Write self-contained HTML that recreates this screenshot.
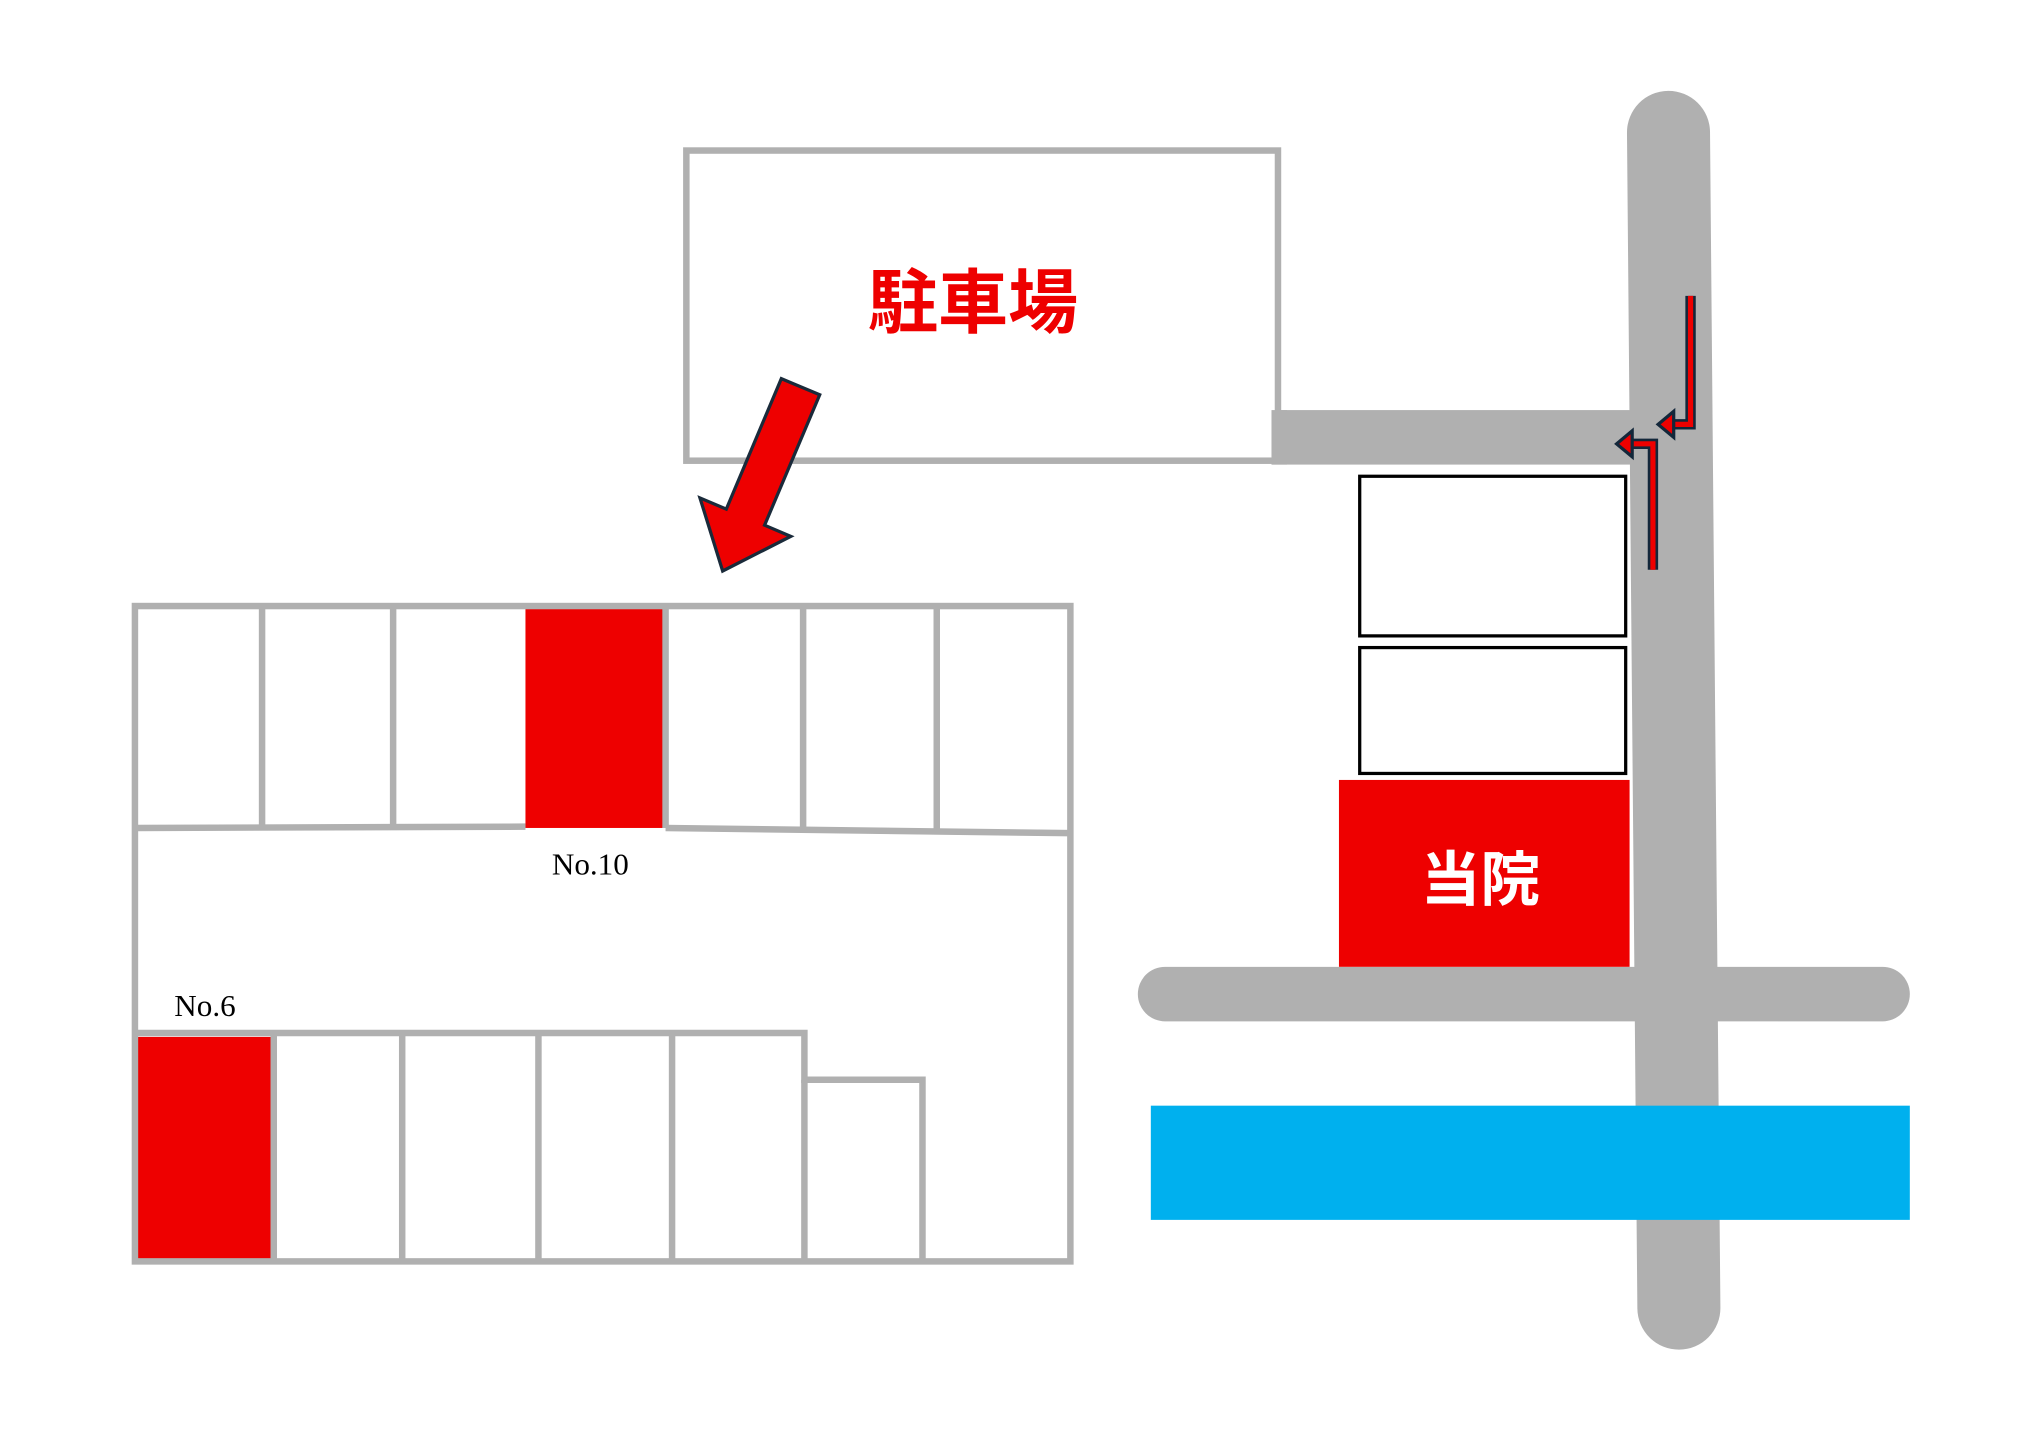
<!DOCTYPE html>
<html><head><meta charset="utf-8"><style>html,body{margin:0;padding:0;background:#fff}svg{display:block}</style></head>
<body>
<svg width="2024" height="1434" viewBox="0 0 1560 1105" preserveAspectRatio="none" xmlns="http://www.w3.org/2000/svg">
<rect width="1560" height="1105" fill="#fff"/>
<path d="M1286 102 L1294 1008" stroke="#b0b0b0" stroke-width="64" stroke-linecap="round" fill="none"/>
<line x1="898" y1="766" x2="1451" y2="766" stroke="#b0b0b0" stroke-width="42" stroke-linecap="round"/>
<rect x="980" y="316" width="285" height="42" fill="#b0b0b0"/>
<rect x="887" y="852" width="585" height="88" fill="#00b0ee"/>
<rect x="529" y="116" width="456" height="239" fill="#fff" stroke="#b0b0b0" stroke-width="5"/>
<rect x="980" y="316" width="12" height="42" fill="#b0b0b0"/>
<text x="750" y="252" font-family="'Liberation Sans','Noto Sans CJK JP',sans-serif" font-size="54" font-weight="bold" fill="#ee0000" text-anchor="middle">駐車場</text>
<rect x="1048" y="367" width="205" height="123" fill="#fff" stroke="#000" stroke-width="2.5"/>
<rect x="1048" y="499" width="205" height="97" fill="#fff" stroke="#000" stroke-width="2.5"/>
<rect x="1032" y="601" width="224" height="144" fill="#ee0000"/>
<text x="1141" y="694" font-family="'Liberation Sans','Noto Sans CJK JP',sans-serif" font-size="46" font-weight="bold" fill="#fff" text-anchor="middle">当院</text>
<polygon points="631.8,304.2 602.2,291.8 559.8,392.3 539.5,383.7 557,440 609.5,413.3 589.3,404.7" fill="#ee0000" stroke="#1a2a3a" stroke-width="2.5"/>
<g fill="none" stroke-linejoin="miter">
<path d="M1303 228 L1303 327 L1284 327" stroke="#13273a" stroke-width="8"/>
<path d="M1303 228 L1303 327 L1284 327" stroke="#ee0000" stroke-width="4"/>
<path d="M1274 439 L1274 342 L1256 342" stroke="#13273a" stroke-width="8"/>
<path d="M1274 439 L1274 342 L1256 342" stroke="#ee0000" stroke-width="4"/>
</g>
<polygon points="1278,327 1290,317 1290,337" fill="#ee0000" stroke="#13273a" stroke-width="2.5"/>
<polygon points="1246,342 1258,332 1258,352" fill="#ee0000" stroke="#13273a" stroke-width="2.5"/>
<rect x="405" y="466" width="108" height="172" fill="#ee0000"/>
<rect x="104" y="799" width="107" height="171" fill="#ee0000"/>
<g stroke="#b0b0b0" stroke-width="5" fill="none">
<rect x="104" y="467" width="721" height="505"/>
<path d="M104 638 L405 637 M513 638 L825 642"/>
<path d="M202 467 V638 M303 467 V638 M513 467 V638 M619 467 V640 M722 467 V641"/>
<path d="M104 796 L620 796 L620 832 L711 832 L711 972"/>
<path d="M211 796 V972 M310 796 V972 M415 796 V972 M518 796 V972 M620 832 V972"/>
</g>
<text x="455" y="674" font-family="'Liberation Serif',serif" font-size="24" fill="#000" text-anchor="middle">No.10</text>
<text x="158" y="783" font-family="'Liberation Serif',serif" font-size="24" fill="#000" text-anchor="middle">No.6</text>
</svg>
</body></html>
